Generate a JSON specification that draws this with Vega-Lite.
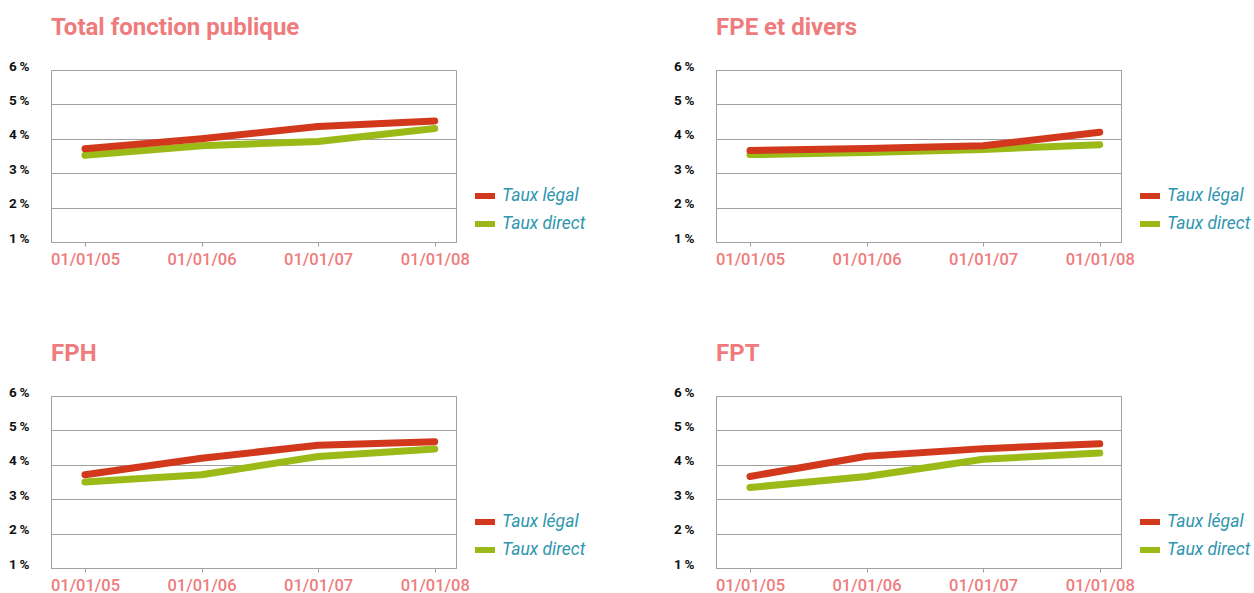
{
  "$schema": "https://vega.github.io/schema/vega-lite/v6.json",
  "padding": {"left": 8, "top": 15, "right": 5, "bottom": 5},
  "background": "white",
  "datasets": {
    "rates": [
      {"panel": "Total fonction publique", "serie": "Taux direct", "date": "01/01/05", "value": 3.52},
      {"panel": "Total fonction publique", "serie": "Taux direct", "date": "01/01/06", "value": 3.80},
      {"panel": "Total fonction publique", "serie": "Taux direct", "date": "01/01/07", "value": 3.92},
      {"panel": "Total fonction publique", "serie": "Taux direct", "date": "01/01/08", "value": 4.30},
      {"panel": "Total fonction publique", "serie": "Taux légal", "date": "01/01/05", "value": 3.71},
      {"panel": "Total fonction publique", "serie": "Taux légal", "date": "01/01/06", "value": 4.00},
      {"panel": "Total fonction publique", "serie": "Taux légal", "date": "01/01/07", "value": 4.36},
      {"panel": "Total fonction publique", "serie": "Taux légal", "date": "01/01/08", "value": 4.52},
      {"panel": "FPE et divers", "serie": "Taux direct", "date": "01/01/05", "value": 3.54},
      {"panel": "FPE et divers", "serie": "Taux direct", "date": "01/01/06", "value": 3.60},
      {"panel": "FPE et divers", "serie": "Taux direct", "date": "01/01/07", "value": 3.69},
      {"panel": "FPE et divers", "serie": "Taux direct", "date": "01/01/08", "value": 3.83},
      {"panel": "FPE et divers", "serie": "Taux légal", "date": "01/01/05", "value": 3.66},
      {"panel": "FPE et divers", "serie": "Taux légal", "date": "01/01/06", "value": 3.72},
      {"panel": "FPE et divers", "serie": "Taux légal", "date": "01/01/07", "value": 3.80},
      {"panel": "FPE et divers", "serie": "Taux légal", "date": "01/01/08", "value": 4.19},
      {"panel": "FPH", "serie": "Taux direct", "date": "01/01/05", "value": 3.50},
      {"panel": "FPH", "serie": "Taux direct", "date": "01/01/06", "value": 3.71},
      {"panel": "FPH", "serie": "Taux direct", "date": "01/01/07", "value": 4.24},
      {"panel": "FPH", "serie": "Taux direct", "date": "01/01/08", "value": 4.46},
      {"panel": "FPH", "serie": "Taux légal", "date": "01/01/05", "value": 3.71},
      {"panel": "FPH", "serie": "Taux légal", "date": "01/01/06", "value": 4.19},
      {"panel": "FPH", "serie": "Taux légal", "date": "01/01/07", "value": 4.57},
      {"panel": "FPH", "serie": "Taux légal", "date": "01/01/08", "value": 4.67},
      {"panel": "FPT", "serie": "Taux direct", "date": "01/01/05", "value": 3.34},
      {"panel": "FPT", "serie": "Taux direct", "date": "01/01/06", "value": 3.66},
      {"panel": "FPT", "serie": "Taux direct", "date": "01/01/07", "value": 4.16},
      {"panel": "FPT", "serie": "Taux direct", "date": "01/01/08", "value": 4.34},
      {"panel": "FPT", "serie": "Taux légal", "date": "01/01/05", "value": 3.66},
      {"panel": "FPT", "serie": "Taux légal", "date": "01/01/06", "value": 4.25},
      {"panel": "FPT", "serie": "Taux légal", "date": "01/01/07", "value": 4.47},
      {"panel": "FPT", "serie": "Taux légal", "date": "01/01/08", "value": 4.61}
    ]
  },
  "columns": 2,
  "bounds": "flush",
  "spacing": {"column": 260, "row": 154},
  "resolve": {"legend": {"color": "independent"}},
  "config": {
    "font": "Roboto",
    "view": {"stroke": "#a0a0a0", "strokeWidth": 1},
    "title": {"anchor": "start", "frame": "group", "font": "Roboto", "fontSize": 24, "fontWeight": "bold", "color": "#ef7b7d", "offset": 19},
    "axisX": {"domainColor": "#a0a0a0", "tickColor": "#a0a0a0", "tickSize": 4, "labelPadding": 5, "labelFont": "Roboto", "labelFontSize": 16.5, "labelFontWeight": 500, "labelColor": "#ef7b7d", "labelAngle": 0, "title": null, "grid": false},
    "axisY": {"domain": false, "ticks": false, "labelPadding": 22, "labelFont": "Roboto", "labelFontSize": 13.5, "labelFontWeight": "bold", "labelColor": "#111111", "labelBaseline": "alphabetic", "gridColor": "#a0a0a0", "gridWidth": 1, "title": null},
    "legend": {"orient": "none", "legendX": 421, "legendY": 113, "symbolType": "stroke", "symbolStrokeWidth": 6, "symbolSize": 400, "labelFont": "Roboto", "labelFontSize": 17.5, "labelFontStyle": "italic", "labelColor": "#2e96ae", "rowPadding": 3, "labelOffset": 4, "title": null}
  },
  "concat": [
    {
      "title": "Total fonction publique",
      "width": 405, "height": 172,
      "data": {"name": "rates"},
      "transform": [{"filter": "datum.panel === 'Total fonction publique'"}],
      "mark": {"type": "line", "strokeWidth": 7, "strokeCap": "round", "strokeJoin": "round"},
      "encoding": {
        "x": {"field": "date", "type": "ordinal", "sort": null, "scale": {"type": "point", "padding": 0.237, "align": 0.615}},
        "y": {"field": "value", "type": "quantitative", "scale": {"domain": [1, 6], "nice": false, "zero": false}, "axis": {"values": [1, 2, 3, 4, 5, 6], "labelExpr": "datum.value + '\u2009%'"}},
        "color": {"field": "serie", "type": "nominal", "scale": {"domain": ["Taux légal", "Taux direct"], "range": ["#d2381c", "#9bba18"]}, "legend": {}}
      }
    },
    {
      "title": "FPE et divers",
      "width": 405, "height": 172,
      "data": {"name": "rates"},
      "transform": [{"filter": "datum.panel === 'FPE et divers'"}],
      "mark": {"type": "line", "strokeWidth": 7, "strokeCap": "round", "strokeJoin": "round"},
      "encoding": {
        "x": {"field": "date", "type": "ordinal", "sort": null, "scale": {"type": "point", "padding": 0.237, "align": 0.615}},
        "y": {"field": "value", "type": "quantitative", "scale": {"domain": [1, 6], "nice": false, "zero": false}, "axis": {"values": [1, 2, 3, 4, 5, 6], "labelExpr": "datum.value + '\u2009%'"}},
        "color": {"field": "serie", "type": "nominal", "scale": {"domain": ["Taux légal", "Taux direct"], "range": ["#d2381c", "#9bba18"]}, "legend": {}}
      }
    },
    {
      "title": "FPH",
      "width": 405, "height": 172,
      "data": {"name": "rates"},
      "transform": [{"filter": "datum.panel === 'FPH'"}],
      "mark": {"type": "line", "strokeWidth": 7, "strokeCap": "round", "strokeJoin": "round"},
      "encoding": {
        "x": {"field": "date", "type": "ordinal", "sort": null, "scale": {"type": "point", "padding": 0.237, "align": 0.615}},
        "y": {"field": "value", "type": "quantitative", "scale": {"domain": [1, 6], "nice": false, "zero": false}, "axis": {"values": [1, 2, 3, 4, 5, 6], "labelExpr": "datum.value + '\u2009%'"}},
        "color": {"field": "serie", "type": "nominal", "scale": {"domain": ["Taux légal", "Taux direct"], "range": ["#d2381c", "#9bba18"]}, "legend": {}}
      }
    },
    {
      "title": "FPT",
      "width": 405, "height": 172,
      "data": {"name": "rates"},
      "transform": [{"filter": "datum.panel === 'FPT'"}],
      "mark": {"type": "line", "strokeWidth": 7, "strokeCap": "round", "strokeJoin": "round"},
      "encoding": {
        "x": {"field": "date", "type": "ordinal", "sort": null, "scale": {"type": "point", "padding": 0.237, "align": 0.615}},
        "y": {"field": "value", "type": "quantitative", "scale": {"domain": [1, 6], "nice": false, "zero": false}, "axis": {"values": [1, 2, 3, 4, 5, 6], "labelExpr": "datum.value + '\u2009%'"}},
        "color": {"field": "serie", "type": "nominal", "scale": {"domain": ["Taux légal", "Taux direct"], "range": ["#d2381c", "#9bba18"]}, "legend": {}}
      }
    }
  ]
}
